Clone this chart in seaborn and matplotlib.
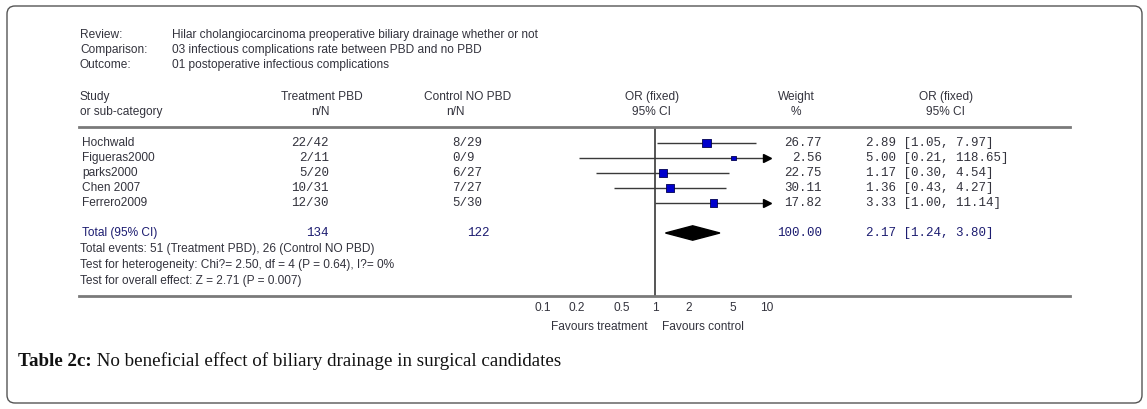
import numpy as np
import pandas as pd
import matplotlib
matplotlib.use("Agg")
import matplotlib.pyplot as plt
import matplotlib.transforms as mtransforms
from matplotlib.patches import FancyBboxPatch
from matplotlib.ticker import NullLocator
import seaborn as sns

# ---- data ----
studies = ["Hochwald", "Figueras2000", "parks2000", "Chen 2007", "Ferrero2009"]
treat_nN = ["22/42", "2/11", "5/20", "10/31", "12/30"]
ctrl_nN = ["8/29", "0/9", "6/27", "7/27", "5/30"]
odds = [2.89, 5.00, 1.17, 1.36, 3.33]
ci_low = [1.05, 0.21, 0.30, 0.43, 1.00]
ci_high = [7.97, 118.65, 4.54, 4.27, 11.14]
weights = [26.77, 2.56, 22.75, 30.11, 17.82]

total_or, total_low, total_high = 2.17, 1.24, 3.80
total_weight = 100.00
total_treat, total_ctrl = 134, 122

tick_values = [0.1, 0.2, 0.5, 1, 2, 5, 10]
tick_labels = ["0.1", "0.2", "0.5", "1", "2", "5", "10"]

header_labels = ["Review:", "Comparison:", "Outcome:"]
header_values = ["Hilar cholangiocarcinoma preoperative biliary drainage whether or not",
                 "03 infectious complications rate between PBD and no PBD",
                 "01 postoperative infectious complications"]
footer_lines = ["Total events: 51 (Treatment PBD), 26 (Control NO PBD)",
                "Test for heterogeneity: Chi?= 2.50, df = 4 (P = 0.64), I?= 0%",
                "Test for overall effect: Z = 2.71 (P = 0.007)"]

# ---- style ----
sns.set_theme(style="white")
plt.rcParams["font.family"] = ["Liberation Sans", "DejaVu Sans"]

W, H = 1147, 409
TXT = "#33333d"
NAVY = "#1c1c70"
MONO = "Liberation Mono"
SANS_SIZE = 8.6
MONO_SIZE = 9

fig = plt.figure(figsize=(W / 100, H / 100), dpi=100)
fig.patch.set_facecolor("white")

# pixel (from top-left) -> figure transform
px = mtransforms.Affine2D().scale(1 / W, -1 / H).translate(0, 1) + fig.transFigure

# forest axes: spans the separator line / bottom axis line
ax = fig.add_axes([79 / W, 1 - 296 / H, (1070 - 79) / W, (296 - 127) / H])
ax.patch.set_alpha(0)
ax.set_xscale("log")
per_dec = 112.0
ax.set_xlim(10 ** ((79 - 655) / per_dec), 10 ** ((1070 - 655) / per_dec))
ax.set_ylim(10.2, -16 / 15)

df = pd.DataFrame({"study": studies, "or": odds, "low": ci_low, "high": ci_high,
                   "weight": weights, "row": np.arange(len(studies))})
xmax_plot = 10
df["high_clip"] = df["high"].clip(upper=xmax_plot)

# confidence intervals
ax.hlines(df["row"], df["low"], df["high_clip"], color="#3a3a3a", lw=1.0, zorder=2)
arrows = df[df["high"] > xmax_plot]
ax.plot(arrows["high_clip"], arrows["row"], ls="none", marker=">", ms=6,
        color="black", zorder=3)

# study squares
sns.scatterplot(data=df, x="or", y="row", size="weight", sizes=(12, 40),
                size_norm=(min(weights), max(weights)), marker="s",
                color="#0000cc", edgecolor="#000050", linewidth=0.6,
                legend=False, ax=ax, zorder=4)

# pooled diamond
total_row = 6
ax.fill([total_low, total_or, total_high, total_or],
        [total_row, total_row - 0.48, total_row, total_row + 0.48],
        color="black", zorder=3)

# line of no effect
ax.axvline(1, color="#555555", lw=1.4, zorder=1)

# axes cosmetics
for s in ["left", "right"]:
    ax.spines[s].set_visible(False)
for s in ["top", "bottom"]:
    ax.spines[s].set_color("#7a7a7a")
    ax.spines[s].set_linewidth(2)
ax.set_yticks([])
ax.set_xticks(tick_values)
ax.set_xticklabels(tick_labels)
ax.xaxis.set_minor_locator(NullLocator())
ax.tick_params(axis="x", direction="inout", length=4, width=0.8, color="#333333",
               labelsize=SANS_SIZE, labelcolor=TXT, pad=2)
ax.set_xlabel("")
ax.set_ylabel("")

# row text: x in pixels, y in data rows
rowtr = mtransforms.blended_transform_factory(px, ax.transData)


def ptext(x, y, s, **kw):
    kw.setdefault("fontsize", SANS_SIZE)
    kw.setdefault("color", TXT)
    kw.setdefault("va", "center")
    return fig.text(x, y, s, transform=px, **kw)


# top header block
for i, (lab, val) in enumerate(zip(header_labels, header_values)):
    ptext(80, 35 + 15 * i, lab)
    ptext(172, 35 + 15 * i, val)

# column headers
ptext(80, 97, "Study")
ptext(80, 112, "or sub-category")
ptext(322, 97, "Treatment PBD", ha="center")
ptext(320, 112, "n/N", ha="center")
ptext(468, 97, "Control NO PBD", ha="center")
ptext(455, 112, "n/N", ha="center")
ptext(652, 97, "OR (fixed)", ha="center")
ptext(652, 112, "95% CI", ha="center")
ptext(796, 97, "Weight", ha="center")
ptext(796, 112, "%", ha="center")
ptext(946, 97, "OR (fixed)", ha="center")
ptext(946, 112, "95% CI", ha="center")

# study rows
for i, row in df.iterrows():
    fig.text(82, row["row"], row["study"], transform=rowtr, fontsize=SANS_SIZE,
             color=TXT, va="center")
    fig.text(329, row["row"], treat_nN[i], transform=rowtr, fontsize=MONO_SIZE,
             family=MONO, color=TXT, va="center", ha="right")
    fig.text(452, row["row"], ctrl_nN[i], transform=rowtr, fontsize=MONO_SIZE,
             family=MONO, color=TXT, va="center")
    fig.text(822, row["row"], f"{row['weight']:.2f}", transform=rowtr,
             fontsize=MONO_SIZE, family=MONO, color=TXT, va="center", ha="right")
    fig.text(866, row["row"], f"{row['or']:.2f} [{row['low']:.2f}, {row['high']:.2f}]",
             transform=rowtr, fontsize=MONO_SIZE, family=MONO, color=TXT, va="center")

# total row
fig.text(82, total_row, "Total (95% CI)", transform=rowtr, fontsize=SANS_SIZE,
         color=NAVY, va="center")
fig.text(329, total_row, f"{total_treat}", transform=rowtr, fontsize=MONO_SIZE,
         family=MONO, color=NAVY, va="center", ha="right")
fig.text(490, total_row, f"{total_ctrl}", transform=rowtr, fontsize=MONO_SIZE,
         family=MONO, color=NAVY, va="center", ha="right")
fig.text(822, total_row, f"{total_weight:.2f}", transform=rowtr, fontsize=MONO_SIZE,
         family=MONO, color=NAVY, va="center", ha="right")
fig.text(866, total_row, f"{total_or:.2f} [{total_low:.2f}, {total_high:.2f}]",
         transform=rowtr, fontsize=MONO_SIZE, family=MONO, color=NAVY, va="center")

for i, line in enumerate(footer_lines):
    ptext(80, 249 + 16 * i, line)

# favours labels
ptext(648, 327, "Favours treatment", ha="right")
ptext(662, 327, "Favours control", ha="left")

# caption
cap1 = fig.text(18 / W, 1 - 361 / H, "Table 2c:", fontsize=13.7, fontweight="bold",
                family="Liberation Serif", color="#111111", va="center")
ax.annotate(" No beneficial effect of biliary drainage in surgical candidates",
            xy=(1, 0), xycoords=cap1, va="bottom", ha="left", fontsize=13.7,
            family="Liberation Serif", color="#111111", annotation_clip=False)

# outer rounded frame (display pixels)
frame = FancyBboxPatch((7, 6), 1135, 397, boxstyle="round,pad=0,rounding_size=8",
                       transform=mtransforms.IdentityTransform(), fill=False,
                       edgecolor="#555555", lw=1.0)
fig.add_artist(frame)

fig.savefig("out.png", dpi=100)
